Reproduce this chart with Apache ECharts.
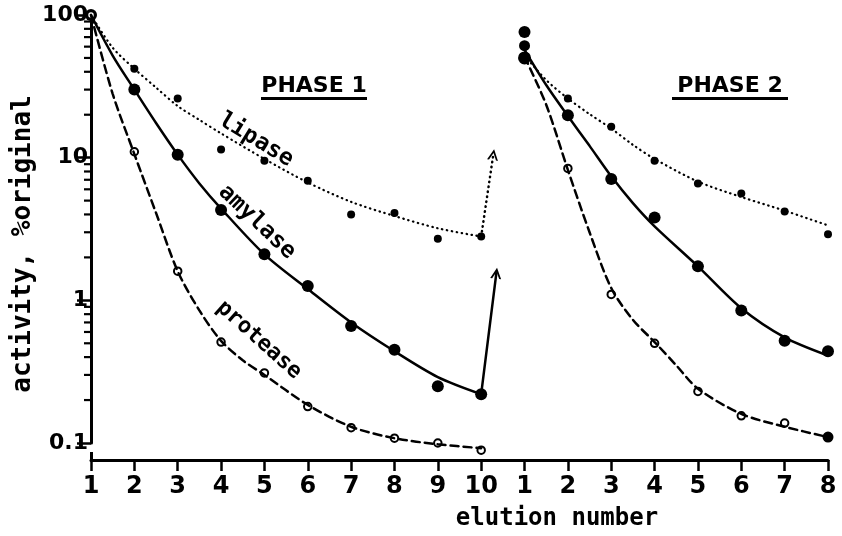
<!DOCTYPE html>
<html>
<head>
<meta charset="utf-8">
<script src="https://cdn.jsdelivr.net/npm/echarts@6/dist/echarts.min.js"></script>
<style>
html,body{margin:0;padding:0;background:#fff;}
#chart{width:842px;height:536px;}
</style>
</head>
<body>
<div id="chart"></div>
<script>
// x tick labels (elution number, phase 1 then phase 2)
var xTickLabels = ['1','2','3','4','5','6','7','8','9','10','1','2','3','4','5','6','7','8'];
var yTickLabels = {'0.1':'0.1','1':'1','10':'10','100':'100'};
var minorTickValues = [0.2,0.3,0.4,0.5,0.6,0.7,0.8,0.9,2,3,4,5,6,7,8,9,20,30,40,50,60,70,80,90];

// positions (index along x axis) of measured points
var phase1X = [0,1,2,3,4,5,6,7,8,9];
var phase2X = [10,11,12,13,14,15,16,17];

// measured points, % original activity
var lipasePts1   = [100, 42, 26, 11.4, 9.5, 6.9, 4.0, 4.1, 2.7, 2.8];
var amylasePts1  = [100, 30, 10.5, 4.3, 2.1, 1.26, 0.66, 0.45, 0.25, 0.22];
var proteasePts1 = [100, 11, 1.6, 0.51, 0.31, 0.18, 0.128, 0.108, 0.1, 0.089];
var lipasePts2   = [61, 26, 16.5, 9.5, 6.6, 5.6, 4.2, 2.9];
var amylasePts2  = [76, 19.8, 7.1, 3.8, 1.73, 0.85, 0.52, 0.44];
var proteasePts2 = [50, 8.4, 1.1, 0.5, 0.23, 0.155, 0.138, 0.11];

// fitted curves
var lipaseX1   = [0, 0.5, 1, 1.5, 2, 2.5, 3, 4, 5, 6, 7, 8, 9];
var lipaseFit1 = [100, 59, 42, 31, 23, 18.4, 14.8, 9.8, 6.7, 4.9, 3.9, 3.2, 2.8];
var amylaseX1   = [0, 0.5, 1, 1.5, 2, 2.5, 3, 4, 5, 6, 7, 8, 9];
var amylaseFit1 = [100, 52, 30, 17.5, 10.5, 6.6, 4.4, 2.1, 1.2, 0.7, 0.44, 0.29, 0.22];
var proteaseX1   = [0, 0.5, 1, 1.5, 2, 2.5, 3, 3.5, 4, 5, 6, 7, 8, 9];
var proteaseFit1 = [100, 28, 10.6, 4.1, 1.6, 0.85, 0.52, 0.38, 0.3, 0.185, 0.13, 0.108, 0.098, 0.092];

var lipaseX2   = [10, 10.5, 11, 11.5, 12, 12.5, 13, 14, 15, 16, 17];
var lipaseFit2 = [52, 35, 26, 20.2, 16, 12.3, 9.8, 6.8, 5.3, 4.25, 3.35];
var amylaseX2   = [10, 10.5, 11, 11.5, 12, 12.5, 13, 14, 15, 16, 17];
var amylaseFit2 = [57, 32.3, 19.6, 12.1, 7.4, 4.8, 3.3, 1.73, 0.88, 0.55, 0.41];
var proteaseX2   = [10, 10.5, 11, 11.5, 12, 12.5, 13, 13.5, 14, 15, 16, 17];
var proteaseFit2 = [51, 23.5, 8.2, 3.0, 1.22, 0.73, 0.51, 0.35, 0.24, 0.16, 0.13, 0.11];

// arrows at the phase change: [start], [tip]
var lipaseArrow   = [[9, 2.8], [9.28, 10.5]];
var amylaseArrow  = [[9, 0.22], [9.35, 1.55]];
var proteaseArrow = [[9, 0.089], [9.2, 0.5]];

function pairs(xs, ys){ return xs.map(function(x,i){ return [x, ys[i]]; }); }

var FONT = 'DejaVu Sans';
var MONO = '"DejaVu Sans Mono"';
var chevron = 'path://M0,10 L5,0 L10,10 L8.2,10 L5,3.6 L1.8,10 Z';

function arrowLine(a, type){
  return {
    silent: true,
    symbol: ['none', chevron],
    symbolSize: [11, 11],
    label: {show:false},
    emphasis: {disabled:true},
    animation: false,
    lineStyle: {color:'#000', width:2.5, type:type, cap:'round'},
    data: [[{coord:a[0]}, {coord:a[1]}]]
  };
}

var dotted = [0.5, 4.5];
var dashed = [8, 5];

function fitLine(name, xs, ys, width, type, mark){
  var s = {type:'line', name:name, data:pairs(xs, ys), smooth:0.3, showSymbol:false, silent:true, clip:false,
    lineStyle:{color:'#000', width:width, type:type, cap:'round'}};
  if (mark) s.markLine = mark;
  return s;
}
// the first points of phase 2 and the last protease point are drawn as large filled dots
function isBig(val){ return val[0] === 10; }

var chart = echarts.init(document.getElementById('chart'), null, {renderer:'canvas'});
var option = {
  animation: false,
  backgroundColor: '#fff',
  grid: {left: 91, right: 14, top: 15, bottom: 93, containLabel: false},
  xAxis: {
    type: 'value', min: 0, max: 17, interval: 1, offset: 17,
    axisLine: {show:true, lineStyle:{color:'#000', width:3}},
    axisTick: {show:true, length:11, lineStyle:{color:'#000', width:2.5}},
    axisLabel: {color:'#000', fontFamily:FONT, fontSize:24, fontWeight:'bold', margin:15,
      formatter: function(v){ return xTickLabels[Math.round(v)] || ''; }},
    splitLine: {show:false}
  },
  yAxis: {
    type: 'log', logBase: 10, min: 0.1, max: 100,
    axisLine: {show:true, lineStyle:{color:'#000', width:3}},
    axisTick: {show:true, length:14, lineStyle:{color:'#000', width:2.5}},
    axisLabel: {color:'#000', fontFamily:FONT, fontSize:22, fontWeight:'bold', margin:3,
      formatter: function(v){ var k = String(+v.toPrecision(3)); return yTickLabels[k] || k; }},
    splitLine: {show:false}
  },
  graphic: [
    {type:'text', x:23, y:244, rotation:Math.PI/2,
     style:{text:'activity, %original', font:'bold 26px ' + MONO, fill:'#000', align:'center', verticalAlign:'middle'}},
    {type:'text', x:557, y:519,
     style:{text:'elution number', font:'bold 24px ' + MONO, fill:'#000', align:'center', verticalAlign:'middle'}},
    {type:'text', x:314, y:86,
     style:{text:'PHASE 1', font:'bold 22px "DejaVu Sans"', fill:'#000', align:'center', verticalAlign:'middle'}},
    {type:'rect', shape:{x:261, y:97, width:106, height:3}, style:{fill:'#000'}},
    {type:'text', x:730, y:86,
     style:{text:'PHASE 2', font:'bold 22px "DejaVu Sans"', fill:'#000', align:'center', verticalAlign:'middle'}},
    {type:'rect', shape:{x:672, y:97, width:116, height:3}, style:{fill:'#000'}},
    {type:'rect', shape:{x:90, y:452, width:3, height:9}, style:{fill:'#000'}},
    {type:'text', x:256, y:140, rotation:-0.55,
     style:{text:'lipase', font:'bold 23px ' + MONO, fill:'#000', align:'center', verticalAlign:'middle'}},
    {type:'text', x:257, y:222, rotation:-0.76,
     style:{text:'amylase', font:'bold 23px ' + MONO, fill:'#000', align:'center', verticalAlign:'middle'}},
    {type:'text', x:259, y:340, rotation:-0.73,
     style:{text:'protease', font:'bold 22px ' + MONO, fill:'#000', align:'center', verticalAlign:'middle'}}
  ],
  series: [
    {type:'custom', name:'minorTicks', clip:false, silent:true,
     data: minorTickValues.map(function(v){ return [0, v]; }),
     renderItem: function(params, api){
       var p = api.coord([api.value(0), api.value(1)]);
       return {type:'line', shape:{x1:p[0]-7, y1:p[1], x2:p[0], y2:p[1]}, style:{stroke:'#000', lineWidth:2.2}};
     }},
    fitLine('lipase fit 1', lipaseX1, lipaseFit1, 2.2, dotted, arrowLine(lipaseArrow, dotted)),
    fitLine('amylase fit 1', amylaseX1, amylaseFit1, 2.5, 'solid', arrowLine(amylaseArrow, 'solid')),
    fitLine('protease fit 1', proteaseX1, proteaseFit1, 2.5, dashed, arrowLine(proteaseArrow, [4,4])),
    fitLine('lipase fit 2', lipaseX2, lipaseFit2, 2.2, dotted),
    fitLine('amylase fit 2', amylaseX2, amylaseFit2, 2.5, 'solid'),
    fitLine('protease fit 2', proteaseX2, proteaseFit2, 2.5, dashed),
    {type:'scatter', name:'lipase', data:pairs(phase1X, lipasePts1).concat(pairs(phase2X, lipasePts2)),
     symbol:'circle', symbolSize:function(v){ return isBig(v) ? 11 : 8; },
     clip:false, itemStyle:{color:'#000', opacity:1}, silent:true},
    {type:'scatter', name:'amylase', data:pairs(phase1X, amylasePts1).concat(pairs(phase2X, amylasePts2)),
     symbol:'circle', symbolSize:12, clip:false, itemStyle:{color:'#000', opacity:1}, silent:true},
    {type:'scatter', name:'protease', data:pairs(phase1X, proteasePts1).concat(pairs(phase2X, proteasePts2)),
     symbol:function(v){ return (isBig(v) || v[0] === 17) ? 'circle' : 'emptyCircle'; },
     symbolSize:function(v){ return isBig(v) ? 11 : (v[0] === 17 ? 9 : 7.5); },
     clip:false, itemStyle:{color:'#000', borderColor:'#000', borderWidth:2, opacity:1}, silent:true}
  ]
};
chart.setOption(option);
</script>
</body>
</html>
